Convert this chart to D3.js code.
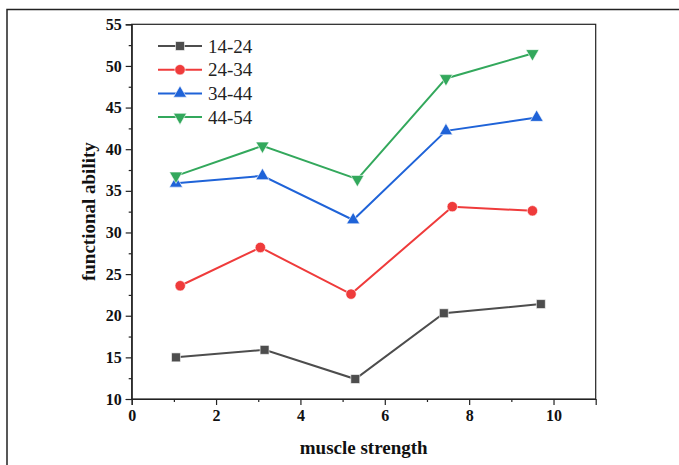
<!DOCTYPE html>
<html>
<head>
<meta charset="utf-8">
<script src="https://cdn.jsdelivr.net/npm/d3@7"></script>
<style>
  body { margin: 0; background: #fff; }
  svg text { font-family: "Liberation Serif", "Times New Roman", serif !important; }
</style>
</head>
<body>
<script>
// data
const seriesNames = ["14-24", "24-34", "34-44", "44-54"];
const x1424 = [1.05, 3.15, 5.3, 7.4, 9.7];
const y1424 = [15.0, 15.9, 12.4, 20.3, 21.4];
const x2434 = [1.15, 3.05, 5.2, 7.6, 9.5];
const y2434 = [23.6, 28.2, 22.6, 33.1, 32.6];
const x3444 = [1.05, 3.1, 5.25, 7.45, 9.6];
const y3444 = [35.9, 36.8, 31.5, 42.2, 43.8];
const x4454 = [1.05, 3.1, 5.35, 7.45, 9.5];
const y4454 = [36.8, 40.4, 36.4, 48.5, 51.5];
const xTicks = [0, 2, 4, 6, 8, 10];
const yTicks = [10, 15, 20, 25, 30, 35, 40, 45, 50, 55];

const W = 679, H = 465;
const pLeft = 131.7, pRight = 595.7, pTop = 24.3, pBottom = 399;

const colors = ["#4d4d4d", "#ef3b3b", "#1f63d8", "#33a85c"];
const symbols = [d3.symbolSquare, d3.symbolCircle, d3.symbolTriangle, d3.symbolTriangle];
const symSize = [80, 85, 75, 75];
const rotate = [0, 0, 0, 180];

const series = [
  {name: seriesNames[0], xs: x1424, ys: y1424},
  {name: seriesNames[1], xs: x2434, ys: y2434},
  {name: seriesNames[2], xs: x3444, ys: y3444},
  {name: seriesNames[3], xs: x4454, ys: y4454}
];

const svg = d3.select("body").append("svg")
  .attr("width", W).attr("height", H);

svg.append("rect").attr("width", W).attr("height", H).attr("fill", "#fff");

// outer frame (only top + left visible)
svg.append("path")
  .attr("d", `M7,${H} V9.5 H${W}`)
  .attr("fill", "none").attr("stroke", "#222").attr("stroke-width", 1.5);

const x = d3.scaleLinear().domain([0, 11]).range([pLeft, pRight]);
const y = d3.scaleLinear().domain([10, 55]).range([pBottom, pTop]);

// box
svg.append("rect")
  .attr("x", pLeft).attr("y", pTop)
  .attr("width", pRight - pLeft).attr("height", pBottom - pTop)
  .attr("fill", "none").attr("stroke", "#222").attr("stroke-width", 1.2);

// minor ticks
const xMinor = d3.range(1, 11, 2);
const yMinor = d3.range(12.5, 55, 5);

svg.append("g").attr("transform", `translate(0,${pBottom})`)
  .call(d3.axisBottom(x).tickValues(xTicks).tickSize(6).tickPadding(5).tickFormat(d3.format("d")));
svg.append("g").attr("transform", `translate(0,${pBottom})`)
  .call(d3.axisBottom(x).tickValues(xMinor).tickSize(3).tickFormat(""))
  .call(g => g.select(".domain").remove());

svg.append("g").attr("transform", `translate(${pLeft},0)`)
  .call(d3.axisLeft(y).tickValues(yTicks).tickSize(6).tickPadding(4).tickFormat(d3.format("d")));
svg.append("g").attr("transform", `translate(${pLeft},0)`)
  .call(d3.axisLeft(y).tickValues(yMinor).tickSize(3).tickFormat(""))
  .call(g => g.select(".domain").remove());

svg.selectAll(".tick line").attr("stroke", "#222").attr("stroke-width", 1.2);
svg.selectAll(".domain").attr("stroke", "#222").attr("stroke-width", 1.2);
svg.selectAll(".tick text")
  .style("font-size", "16px").style("font-weight", "bold").attr("fill", "#111");

// axis titles
svg.append("text")
  .attr("x", (pLeft + pRight) / 2).attr("y", 454)
  .attr("text-anchor", "middle")
  .style("font-size", "19px").style("font-weight", "bold").attr("fill", "#111")
  .text("muscle strength");

svg.append("text")
  .attr("transform", `translate(95,${(pTop + pBottom) / 2}) rotate(-90)`)
  .attr("text-anchor", "middle")
  .style("font-size", "19px").style("font-weight", "bold").attr("fill", "#111")
  .text("functional ability");

// lines + markers
const line = d3.line().x(d => x(d[0])).y(d => y(d[1]));

series.forEach((s, i) => {
  const pts = s.xs.map((v, k) => [v, s.ys[k]]);
  const g = svg.append("g");
  g.append("path").datum(pts)
    .attr("d", line)
    .attr("fill", "none").attr("stroke", colors[i]).attr("stroke-width", 2);
  g.selectAll("path.m").data(pts).join("path")
    .attr("class", "m")
    .attr("d", d3.symbol(symbols[i], symSize[i]))
    .attr("transform", d => `translate(${x(d[0])},${y(d[1])}) rotate(${rotate[i]})`)
    .attr("fill", colors[i]).attr("stroke", "#fff").attr("stroke-width", 0.6);
});

// legend
const legend = svg.append("g");
series.forEach((s, i) => {
  const ly = 46 + i * 23.7;
  legend.append("line")
    .attr("x1", 158).attr("x2", 202).attr("y1", ly).attr("y2", ly)
    .attr("stroke", colors[i]).attr("stroke-width", 2);
  legend.append("path")
    .attr("d", d3.symbol(symbols[i], symSize[i]))
    .attr("transform", `translate(180,${ly}) rotate(${rotate[i]})`)
    .attr("fill", colors[i]).attr("stroke", "#fff").attr("stroke-width", 0.6);
  legend.append("text")
    .attr("x", 208).attr("y", ly + 6.5)
    .style("font-size", "19px").attr("fill", "#222")
    .text(s.name);
});
</script>
</body>
</html>
